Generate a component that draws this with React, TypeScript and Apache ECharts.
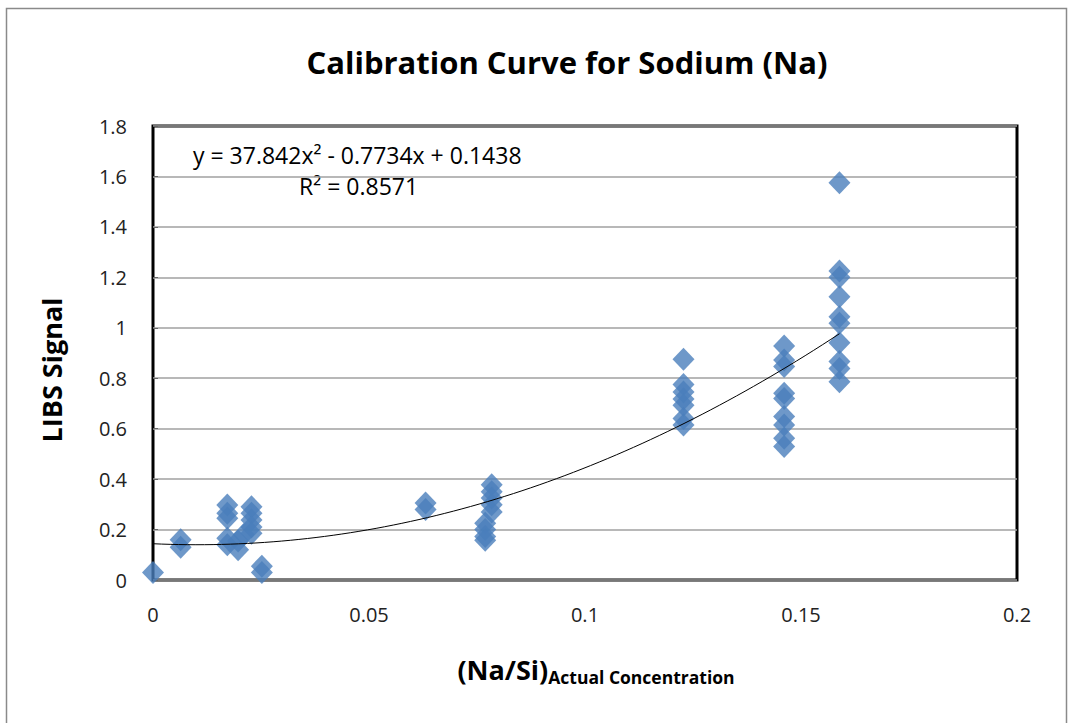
import React, { useEffect, useRef } from "react";
import * as echarts from "echarts";

// Na/Si actual concentration (x) and LIBS signal (y)
const naSiRatio = [
  0.0,
  0.0064, 0.0064,
  0.0172, 0.0172, 0.0172, 0.0172, 0.0172,
  0.0197, 0.0197, 0.021,
  0.0228, 0.0228, 0.0228, 0.0228, 0.0228,
  0.0252, 0.0252,
  0.0631, 0.0631,
  0.0769, 0.0769, 0.0769, 0.0769,
  0.0784, 0.0784, 0.0784, 0.0784, 0.0784,
  0.1228, 0.1228, 0.1228, 0.1228, 0.1228, 0.1228, 0.1228,
  0.1461, 0.1461, 0.1461, 0.1461, 0.1461, 0.1461, 0.1461, 0.1461, 0.1461,
  0.1589, 0.1589, 0.1589, 0.1589, 0.1589, 0.1589, 0.1589, 0.1589, 0.1589, 0.1589,
];
const libsSignal = [
  0.03,
  0.16, 0.13,
  0.297, 0.265, 0.245, 0.166, 0.14,
  0.12, 0.155, 0.18,
  0.29, 0.265, 0.238, 0.21, 0.185,
  0.055, 0.03,
  0.305, 0.28,
  0.225, 0.2, 0.172, 0.158,
  0.378, 0.35, 0.325, 0.298, 0.27,
  0.875, 0.775, 0.745, 0.718, 0.693, 0.64, 0.615,
  0.928, 0.872, 0.846, 0.74, 0.72, 0.648, 0.615, 0.562, 0.529,
  1.575, 1.225, 1.2, 1.123, 1.044, 1.018, 0.941, 0.866, 0.839, 0.786,
];

// Polynomial trendline coefficients shown in the chart: y = a x^2 + b x + c
const trendCoefficients = [37.842, -0.7734, 0.1438];
const trendRange = [0, 0.1589];

const yTicks = ["0", "0.2", "0.4", "0.6", "0.8", "1", "1.2", "1.4", "1.6", "1.8"];
const xTicks = ["0", "0.05", "0.1", "0.15", "0.2"];

const equationText = "y = 37.842x² - 0.7734x + 0.1438";
const rSquaredText = "R² = 0.8571";

const FONT = "'Open Sans', 'Noto Sans', sans-serif";

export default function App() {
  const ref = useRef<HTMLDivElement>(null);

  useEffect(() => {
    if (!ref.current) return;
    const chart = echarts.init(ref.current, undefined, { renderer: "svg" });

    const points = naSiRatio.map((x, i) => [x, libsSignal[i]]);
    const [a, b, c] = trendCoefficients;
    const steps = 80;
    const trend: number[][] = [];
    for (let i = 0; i <= steps; i++) {
      const x = trendRange[0] + ((trendRange[1] - trendRange[0]) * i) / steps;
      trend.push([x, a * x * x + b * x + c]);
    }

    chart.setOption({
      animation: false,
      backgroundColor: "#ffffff",
      title: {
        text: "Calibration Curve for Sodium (Na)",
        left: 562,
        top: 41,
        textAlign: "center",
        textStyle: { fontFamily: FONT, fontSize: 31, fontWeight: "bold", color: "#000" },
      },
      grid: {
        left: 153,
        top: 126,
        width: 864,
        height: 454,
        show: true,
        borderColor: "#000",
        borderWidth: 3,
        backgroundColor: "#fff",
      },
      xAxis: {
        type: "value",
        min: 0,
        max: 0.2,
        interval: 0.05,
        name: "{a|(Na/Si)}{b|Actual Concentration}",
        nameLocation: "middle",
        nameGap: 72,
        nameTextStyle: {
          padding: [0, 0, 0, 22],
          rich: {
            a: { fontFamily: FONT, fontSize: 27, fontWeight: "bold", color: "#000", lineHeight: 34 },
            b: {
              fontFamily: FONT,
              fontSize: 17.5,
              fontWeight: "bold",
              color: "#000",
              lineHeight: 34,
              verticalAlign: "bottom",
              padding: [15, 0, 0, 0],
            },
          },
        },
        axisLine: { show: false },
        axisTick: { show: false },
        splitLine: { show: false },
        axisLabel: {
          fontFamily: FONT,
          fontSize: 20,
          color: "#222",
          margin: 24,
          formatter: (v: number) => {
            const idx = Math.round(v / 0.05);
            return xTicks[idx] ?? String(v);
          },
        },
      },
      yAxis: {
        type: "value",
        min: 0,
        max: 1.8,
        interval: 0.2,
        name: "LIBS Signal",
        nameLocation: "middle",
        nameGap: 88,
        nameTextStyle: {
          fontFamily: FONT,
          fontSize: 27,
          fontWeight: "bold",
          color: "#000",
          padding: [0, 34, 0, 0],
        },
        axisLine: { show: false },
        axisTick: { show: true, inside: true, length: 5, lineStyle: { color: "#666" } },
        splitLine: { show: true, lineStyle: { color: "#a0a0a0", width: 1.5 } },
        axisLabel: {
          fontFamily: FONT,
          fontSize: 20,
          color: "#222",
          margin: 26,
          formatter: (v: number) => {
            const idx = Math.round(v / 0.2);
            return yTicks[idx] ?? String(v);
          },
        },
      },
      graphic: [
        {
          type: "rect",
          silent: true,
          shape: { x: 6.5, y: 8.5, width: 1060, height: 740 },
          style: { fill: "none", stroke: "#8a8a8a", lineWidth: 1.5 },
          z: -10,
        },
        {
          type: "text",
          left: 193,
          top: 143,
          style: { text: equationText, fontFamily: FONT, fontSize: 23, fill: "#000" },
        },
        {
          type: "text",
          left: 299,
          top: 174,
          style: { text: rSquaredText, fontFamily: FONT, fontSize: 23, fill: "#000" },
        },
      ],
      series: [
        {
          type: "scatter",
          data: points,
          symbol: "diamond",
          symbolSize: [22, 23],
          itemStyle: { color: "#4A7EBB" },
          z: 3,
        },
        {
          type: "line",
          data: trend,
          showSymbol: false,
          smooth: false,
          lineStyle: { color: "#000", width: 1 },
          z: 4,
        },
      ],
    });

    return () => chart.dispose();
  }, []);

  return (
    <div
      ref={ref}
      style={{ position: "fixed", left: 0, top: 0, width: 1069, height: 723 }}
    />
  );
}
